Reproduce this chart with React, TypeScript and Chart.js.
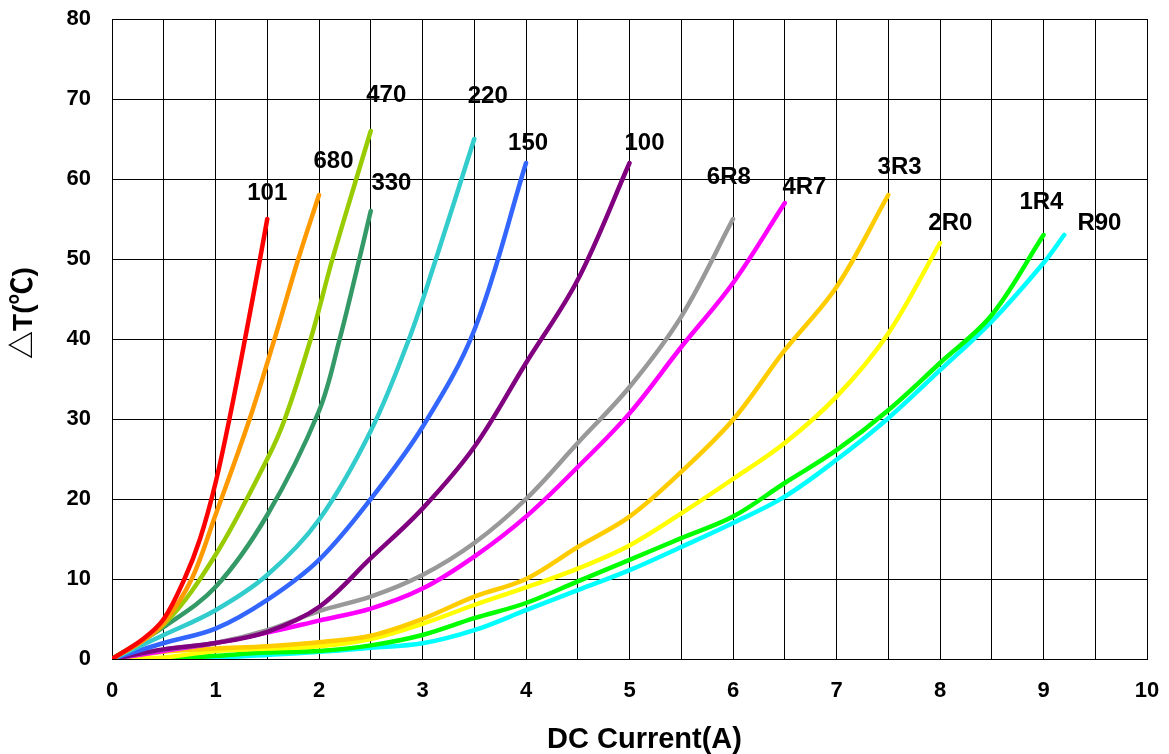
import React, { useEffect, useRef } from 'react';
import { Chart, registerables } from 'chart.js';

Chart.register(...registerables);

const FONT = "'Liberation Sans', Arial, 'Noto Sans CJK SC', sans-serif";

// Series names and colours
const seriesNames = ['101', '680', '470', '330', '220', '150', '100', '6R8', '4R7', '3R3', '2R0', '1R4', 'R90'];
const seriesColors = ['#ff0000', '#ff9900', '#99cc00', '#339966', '#33cccc', '#3366ff', '#800080', '#999999', '#ff00ff', '#ffcc00', '#ffff00', '#00ff00', '#00ffff'];

// DC current (A) and temperature rise (°C) for each part
const current101 = [0, 0.3, 0.5, 0.7, 0.85, 1.0, 1.15, 1.3, 1.43, 1.5];
const temp101 = [0, 2.5, 5, 10, 15, 22, 31, 41, 50, 55];

const current680 = [0, 0.3, 0.5, 0.77, 1.0, 1.33, 1.57, 1.8, 2.0];
const temp680 = [0, 2.3, 4.5, 10, 18, 30, 40, 50, 58];

const current470 = [0, 0.5, 1.0, 1.5, 1.67, 1.92, 2.13, 2.36, 2.5];
const temp470 = [0, 4.3, 13, 25, 30, 40, 50, 60, 66];

const current330 = [0, 0.5, 1.0, 1.5, 2.0, 2.2, 2.39, 2.5];
const temp330 = [0, 4, 9, 18, 31, 40, 50, 56];

const current220 = [0, 0.5, 1.0, 1.5, 2.0, 2.5, 2.87, 3.13, 3.5];
const temp220 = [0, 3, 6.1, 10.5, 17.4, 28.5, 40, 50, 65];

const current150 = [0, 0.5, 1, 1.5, 2, 2.5, 3.0, 3.5, 4.0];
const temp150 = [0, 2, 3.8, 7.4, 12.4, 20, 29, 41.1, 62];

const current100 = [0, 0.5, 1, 1.5, 2, 2.5, 3, 3.5, 4, 4.5, 5];
const temp100 = [0, 1.2, 2, 3.4, 6.5, 12.6, 18.8, 26.5, 37, 47.4, 62];

const current6R8 = [0, 0.5, 1, 1.5, 2, 2.5, 3, 3.5, 4, 4.5, 5, 5.5, 6];
const temp6R8 = [0, 1.2, 2, 3.6, 6, 7.8, 10.5, 14.5, 20, 27, 34, 42.8, 55];

const current4R7 = [0, 0.5, 1, 1.5, 2, 2.5, 3, 3.5, 4, 4.5, 5, 5.5, 6, 6.5];
const temp4R7 = [0, 1, 2, 3.3, 4.8, 6.3, 8.8, 12.8, 17.8, 24, 30.7, 39, 47, 57];

const current3R3 = [0, 0.5, 1, 1.5, 2, 2.5, 3, 3.5, 4, 4.5, 5, 5.5, 6, 6.5, 7, 7.5];
const temp3R3 = [0, 0.9, 1.3, 1.6, 2.1, 2.9, 5.0, 7.8, 10, 14, 17.8, 23.4, 29.9, 38.6, 46.5, 58];

const current2R0 = [0, 0.5, 1, 1.5, 2, 2.5, 3, 3.5, 4, 4.5, 5, 5.5, 6, 6.5, 7, 7.5, 8];
const temp2R0 = [0, 0.2, 1, 1.3, 1.6, 2.5, 4.4, 6.75, 8.95, 11.3, 14.2, 18.2, 22.5, 27, 32.8, 40.7, 52];

const current1R4 = [0, 0.5, 1, 1.5, 2, 2.5, 3, 3.5, 4, 4.5, 5, 5.5, 6, 6.5, 7, 7.5, 8, 8.5, 9];
const temp1R4 = [0, 0, 0.4, 0.8, 1.0, 1.7, 3.0, 5.1, 7, 9.7, 12.4, 15.1, 17.8, 22, 26.1, 31.1, 37, 43, 53];

const currentR90 = [0, 1, 2, 2.5, 3, 3.5, 4, 4.5, 5, 5.5, 6, 6.5, 7, 7.5, 8, 8.5, 9, 9.2];
const tempR90 = [0, 0.2, 0.9, 1.4, 1.96, 3.6, 6.1, 8.6, 11.1, 14, 17, 20.3, 24.9, 30.1, 36.1, 42.2, 49.5, 53];

const seriesCurrents = [current101, current680, current470, current330, current220, current150, current100, current6R8, current4R7, current3R3, current2R0, current1R4, currentR90];
const seriesTemps = [temp101, temp680, temp470, temp330, temp220, temp150, temp100, temp6R8, temp4R7, temp3R3, temp2R0, temp1R4, tempR90];

// Label anchors (data units) for the curve names
const labelCurrent = [1.5, 2.14, 2.65, 2.7, 3.63, 4.02, 5.145, 5.96, 6.69, 7.61, 8.1, 8.98, 9.54];
const labelTemp = [58.2, 62.2, 70.5, 59.4, 70.3, 64.4, 64.4, 60.2, 59.0, 61.5, 54.5, 57.1, 54.5];

const xTitle = 'DC Current(A)';
const yTitle = '△T(℃)';

const annotatePlugin = {
  id: 'annotate',
  afterDatasetsDraw(chart: any) {
    const { ctx, scales } = chart;
    const x = scales.x;
    const y = scales.y;
    ctx.save();
    ctx.fillStyle = '#000';
    ctx.textAlign = 'center';
    ctx.textBaseline = 'middle';
    ctx.font = `bold 24px ${FONT}`;
    seriesNames.forEach((n, i) => {
      ctx.fillText(n, x.getPixelForValue(labelCurrent[i]), y.getPixelForValue(labelTemp[i]));
    });
    ctx.font = `bold 29px ${FONT}`;
    ctx.fillText(xTitle, x.getPixelForValue(5.145), chart.height - 14);
    ctx.font = `bold 28px ${FONT}`;
    ctx.translate(24, y.getPixelForValue(43.25));
    ctx.rotate(-Math.PI / 2);
    ctx.fillText(yTitle, 0, 0);
    ctx.restore();
  },
};

export default function App() {
  const canvasRef = useRef<HTMLCanvasElement | null>(null);

  useEffect(() => {
    if (!canvasRef.current) return;
    const datasets = seriesNames.map((name, i) => ({
      label: name,
      data: seriesCurrents[i].map((c, j) => ({ x: c, y: seriesTemps[i][j] })),
      borderColor: seriesColors[i],
      backgroundColor: seriesColors[i],
      borderWidth: 4.5,
      pointRadius: 0,
      fill: false,
      tension: 0.35,
      borderCapStyle: 'round' as const,
      borderJoinStyle: 'round' as const,
    }));

    const chart = new Chart(canvasRef.current, {
      type: 'line',
      data: { datasets },
      options: {
        animation: false,
        responsive: true,
        maintainAspectRatio: false,
        layout: { padding: { top: 19, right: 22, left: 0, bottom: 0 } },
        plugins: {
          legend: { display: false },
          tooltip: { enabled: false },
        },
        scales: {
          x: {
            type: 'linear',
            min: 0,
            max: 10,
            ticks: {
              stepSize: 0.5,
              autoSkip: false,
              maxRotation: 0,
              padding: 19,
              color: '#000',
              font: { family: FONT, size: 22, weight: 'bold' },
              callback: (v: any) => (Number(v) % 1 === 0 ? String(v) : ''),
            },
            grid: { color: '#000', lineWidth: 1, drawTicks: false },
            border: { color: '#000', width: 1 },
            afterFit: (s: any) => {
              s.height = 95;
              s.paddingLeft = 0;
              s.paddingRight = 0;
            },
          },
          y: {
            type: 'linear',
            min: 0,
            max: 80,
            ticks: {
              stepSize: 10,
              padding: 21,
              color: '#000',
              font: { family: FONT, size: 22, weight: 'bold' },
            },
            grid: { color: '#000', lineWidth: 1, drawTicks: false },
            border: { color: '#000', width: 1 },
            afterFit: (s: any) => {
              s.width = 112;
              s.paddingTop = 0;
              s.paddingBottom = 0;
            },
          },
        },
      },
      plugins: [annotatePlugin],
    });
    return () => chart.destroy();
  }, []);

  return (
    <div style={{ position: 'fixed', left: 0, top: 0, width: 1169, height: 754, background: '#fff' }}>
      <canvas ref={canvasRef} />
    </div>
  );
}
